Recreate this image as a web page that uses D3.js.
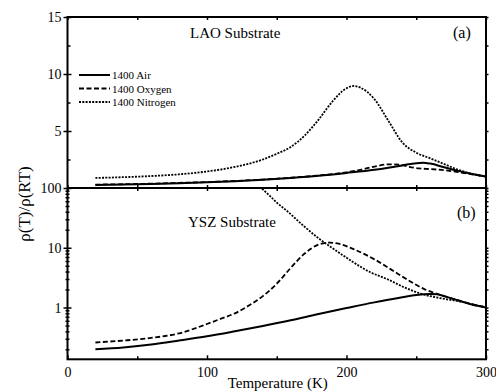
<!DOCTYPE html>
<html>
<head>
<meta charset="utf-8">
<script src="https://cdn.jsdelivr.net/npm/d3@7"></script>
<style>
  body { margin: 0; background: #fff; }
  svg, svg text { font-family: "Liberation Serif", "DejaVu Serif", "Times New Roman", serif; }
  .tick line { stroke: #000; stroke-width: 1.5; }
  .tick text { fill: #000; }
</style>
</head>
<body>
<div id="chart"></div>
<script>
// ---- data ----
const seriesNames = ['1400 Air', '1400 Oxygen', '1400 Nitrogen'];

// LAO substrate (panel a, linear axis)
const laoAirT = [20, 40, 60, 80, 100, 120, 140, 160, 180, 200, 220, 230, 240, 250, 255, 260, 270, 280, 290, 300];
const laoAirV = [0.27, 0.3, 0.35, 0.42, 0.5, 0.6, 0.72, 0.88, 1.07, 1.32, 1.6, 1.78, 1.98, 2.18, 2.22, 2.14, 1.82, 1.5, 1.22, 1.0];
const laoOxyT = [20, 40, 60, 80, 100, 120, 140, 160, 180, 200, 210, 220, 230, 238, 245, 252, 260, 270, 280, 290, 300];
const laoOxyV = [0.3, 0.33, 0.38, 0.45, 0.52, 0.62, 0.74, 0.9, 1.1, 1.38, 1.6, 1.88, 2.08, 2.05, 1.85, 1.72, 1.66, 1.56, 1.4, 1.2, 1.0];
const laoNitT = [20, 40, 60, 80, 100, 120, 140, 150, 160, 170, 180, 190, 200, 205, 210, 220, 230, 240, 250, 260, 270, 280, 290, 300];
const laoNitV = [0.88, 0.95, 1.05, 1.2, 1.45, 1.85, 2.5, 3.0, 3.6, 4.6, 6.0, 7.6, 8.75, 8.95, 8.8, 7.8, 5.9, 4.0, 3.1, 2.6, 2.1, 1.6, 1.25, 1.0];

// YSZ substrate (panel b, log axis)
const yszAirT = [20, 40, 60, 80, 100, 120, 140, 160, 180, 200, 220, 240, 250, 260, 265, 270, 280, 290, 300];
const yszAirV = [0.2, 0.215, 0.24, 0.28, 0.33, 0.4, 0.49, 0.61, 0.78, 0.98, 1.22, 1.48, 1.62, 1.68, 1.66, 1.55, 1.32, 1.12, 1.0];
const yszOxyT = [20, 40, 60, 80, 100, 110, 120, 130, 140, 150, 160, 170, 180, 188, 195, 205, 220, 240, 255, 270, 285, 300];
const yszOxyV = [0.26, 0.28, 0.31, 0.37, 0.53, 0.65, 0.8, 1.08, 1.55, 2.5, 4.6, 8.0, 11.3, 12.2, 11.6, 9.5, 6.4, 3.3, 2.07, 1.55, 1.22, 1.0];
const yszNitT = [136, 145, 150, 157, 169, 181, 189, 197, 205, 217, 229, 241, 253, 269, 283, 292, 300];
const yszNitV = [115, 74, 57, 42, 23.5, 13.8, 10.2, 7.6, 5.7, 3.9, 3.0, 2.2, 1.71, 1.41, 1.24, 1.1, 1.0];

const xTicks = [0, 100, 200, 300];
const topTicks = [5, 10, 15];
const botTicks = [1, 10, 100];

// ---- layout ----
const width = 496, height = 391;
const pLeft = 67.5, pRight = 486, pTop = 17, pMid = 188, pBottom = 359.3;
const serif = '"Liberation Serif", "DejaVu Serif", serif';

const svg = d3.select('#chart').append('svg')
    .attr('width', width)
    .attr('height', height);

const x = d3.scaleLinear().domain([0, 300]).range([pLeft, pRight]);
const yTop = d3.scaleLinear().domain([0, 15]).range([pMid, pTop]);
const yBot = d3.scaleLog().domain([0.136, 100]).range([pBottom, pMid]);

const dashes = ['none', '5,2.5', '2,1.3'];
const widths = [2, 1.8, 1.8];

// clip paths
const defs = svg.append('defs');
defs.append('clipPath').attr('id', 'clipTop')
    .append('rect').attr('x', pLeft).attr('y', pTop).attr('width', pRight - pLeft).attr('height', pMid - pTop);
defs.append('clipPath').attr('id', 'clipBot')
    .append('rect').attr('x', pLeft).attr('y', pMid).attr('width', pRight - pLeft).attr('height', pBottom - pMid);

function drawSeries(g, xs, vs, y, i) {
    const line = d3.line()
        .x((d, k) => x(xs[k]))
        .y(d => y(d))
        .curve(d3.curveMonotoneX);
    g.append('path')
        .datum(vs)
        .attr('fill', 'none')
        .attr('stroke', '#000')
        .attr('stroke-width', widths[i])
        .attr('stroke-dasharray', dashes[i])
        .attr('d', line);
}

const gTop = svg.append('g').attr('clip-path', 'url(#clipTop)');
drawSeries(gTop, laoAirT, laoAirV, yTop, 0);
drawSeries(gTop, laoOxyT, laoOxyV, yTop, 1);
drawSeries(gTop, laoNitT, laoNitV, yTop, 2);

const gBot = svg.append('g').attr('clip-path', 'url(#clipBot)');
drawSeries(gBot, yszAirT, yszAirV, yBot, 0);
drawSeries(gBot, yszOxyT, yszOxyV, yBot, 1);
drawSeries(gBot, yszNitT, yszNitV, yBot, 2);

// ---- axes ----
function axis(gen, tx, ty) {
    const g = svg.append('g')
        .attr('transform', `translate(${tx},${ty})`)
        .call(gen)
        .attr('font-family', serif)
        .attr('font-size', 14);
    g.select('.domain').remove();
    return g;
}
const noLabel = () => '';

// x axes: bottom of each panel and top, ticks every 50
const xMinor = [50, 150, 250];
axis(d3.axisTop(x).tickValues(xTicks).tickSize(4).tickFormat(noLabel), 0, pBottom);
axis(d3.axisTop(x).tickValues(xMinor).tickSize(3).tickFormat(noLabel), 0, pBottom);
axis(d3.axisTop(x).tickValues(xTicks.concat(xMinor)).tickSize(3).tickFormat(noLabel), 0, pMid);
axis(d3.axisBottom(x).tickValues(xTicks.concat(xMinor)).tickSize(3).tickFormat(noLabel), 0, pMid);
axis(d3.axisBottom(x).tickValues(xTicks.concat(xMinor)).tickSize(3).tickFormat(noLabel), 0, pTop);

axis(d3.axisBottom(x).tickValues(xTicks).tickSize(0).tickPadding(8), 0, pBottom);

// top panel y
const topMinor = [2.5, 7.5, 12.5];
axis(d3.axisLeft(yTop).tickValues(topTicks).tickSize(4).tickPadding(2), pLeft, 0);
axis(d3.axisRight(yTop).tickValues(topTicks).tickSize(4).tickFormat(noLabel), pLeft, 0);
axis(d3.axisRight(yTop).tickValues(topMinor).tickSize(3).tickFormat(noLabel), pLeft, 0);
axis(d3.axisRight(yTop).tickValues(topTicks.concat(topMinor)).tickSize(2.5).tickFormat(noLabel), pRight, 0);

// bottom panel y (log)
const botMinor = [];
[0.1, 1, 10].forEach(dec => {
    for (let k = 2; k <= 9; k++) {
        const v = dec * k;
        if (v >= 0.136 && v <= 100) botMinor.push(v);
    }
});
axis(d3.axisLeft(yBot).tickValues(botTicks).tickSize(4).tickPadding(2)
    .tickFormat(d3.format('d')), pLeft, 0);
axis(d3.axisRight(yBot).tickValues(botTicks).tickSize(4).tickFormat(noLabel), pLeft, 0);
axis(d3.axisLeft(yBot).tickValues(botMinor).tickSize(2).tickFormat(noLabel), pLeft, 0);
axis(d3.axisRight(yBot).tickValues(botMinor).tickSize(2).tickFormat(noLabel), pLeft, 0);
axis(d3.axisRight(yBot).tickValues(botTicks.concat(botMinor)).tickSize(2.5).tickFormat(noLabel), pRight, 0);

// frames
svg.append('rect')
    .attr('x', pLeft).attr('y', pTop)
    .attr('width', pRight - pLeft).attr('height', pBottom - pTop)
    .attr('fill', 'none').attr('stroke', '#000').attr('stroke-width', 2);
svg.append('line')
    .attr('x1', pLeft).attr('x2', pRight)
    .attr('y1', pMid).attr('y2', pMid)
    .attr('stroke', '#000').attr('stroke-width', 2);

// ---- texts ----
svg.append('text')
    .attr('x', (pLeft + pRight) / 2 + 1).attr('y', 388)
    .attr('text-anchor', 'middle').attr('font-size', 15)
    .text('Temperature (K)');

svg.append('text')
    .attr('transform', 'translate(30,204) rotate(-90)')
    .attr('text-anchor', 'middle').attr('font-size', 17)
    .text('ρ(T)/ρ(RT)');

svg.append('text').attr('x', 190).attr('y', 38).attr('font-size', 15).text('LAO Substrate');
svg.append('text').attr('x', 453).attr('y', 38).attr('font-size', 16).text('(a)');
svg.append('text').attr('x', 188).attr('y', 227).attr('font-size', 15).text('YSZ Substrate');
svg.append('text').attr('x', 457).attr('y', 218).attr('font-size', 16).text('(b)');

// legend
const legend = svg.append('g').attr('transform', 'translate(79,75)');
seriesNames.forEach((name, i) => {
    const row = legend.append('g').attr('transform', `translate(0,${i * 13.5})`);
    row.append('line')
        .attr('x1', 0).attr('x2', 31)
        .attr('stroke', '#000')
        .attr('stroke-width', widths[i])
        .attr('stroke-dasharray', dashes[i]);
    row.append('text')
        .attr('x', 33).attr('y', 4)
        .attr('font-size', 11)
        .text(name);
});
</script>
</body>
</html>
